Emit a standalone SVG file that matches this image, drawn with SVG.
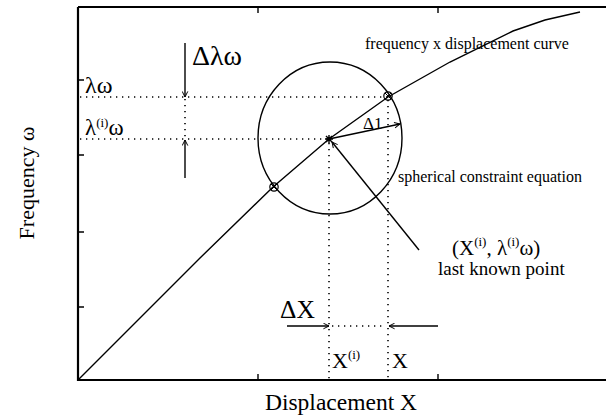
<svg xmlns="http://www.w3.org/2000/svg" width="606" height="418" viewBox="0 0 606 418">
<defs>
<marker id="ah" viewBox="0 0 10 10" refX="9" refY="5" markerWidth="7" markerHeight="7" markerUnits="userSpaceOnUse" orient="auto">
<path d="M1,1 L9,5 L1,9" fill="none" stroke="#000" stroke-width="1.4"/>
</marker>
</defs>
<style>
.t{font-family:"Liberation Serif","Times New Roman",serif;fill:#000}
.ln{fill:none;stroke:#000;stroke-width:1.4}
.dot{fill:none;stroke:#000;stroke-width:1.6;stroke-dasharray:1.3 4.7}
.arr{fill:none;stroke:#000;stroke-width:1.4;marker-end:url(#ah)}
</style>
<rect width="606" height="418" fill="#fff"/>
<g id="axes">
<path d="M78,7 H606 M78,7 V380 H606" fill="none" stroke="#000" stroke-width="2.2"/>
<path class="ln" d="M78,80 H84 M78,155 H84 M78,232 H84 M78,307 H84 M258,380 V374 M438,380 V374 M258,7 V13 M438,7 V13"/>
<text class="t" x="341" y="410" font-size="23.5" text-anchor="middle">Displacement X</text>
<text class="t" transform="translate(34,183) rotate(-90)" font-size="22" text-anchor="middle">Frequency ω</text>
</g>
<g id="curve">
<polyline class="ln" points="78,380 200,258 273,187 329,139 388,97 450,62 513,31 545,20 580,12"/>
<text class="t" x="365" y="49" font-size="16">frequency x displacement curve</text>
</g>
<g id="circle">
<ellipse class="ln" cx="330" cy="138" rx="72" ry="76"/>
<text class="t" x="398" y="182" font-size="16">spherical constraint equation</text>
</g>
<g id="points">
<circle cx="274" cy="187" r="4.2" fill="none" stroke="#000" stroke-width="1.2"/>
<path d="M271,184 L277,190 M277,184 L271,190" stroke="#000" stroke-width="1"/>
<circle cx="388" cy="96" r="4.2" fill="none" stroke="#000" stroke-width="1.2"/>
<path d="M385,93 L391,99 M391,93 L385,99" stroke="#000" stroke-width="1"/>
<path d="M325,139 H333 M329,135 V143 M326,136 L332,142 M332,136 L326,142" stroke="#000" stroke-width="1.4"/>
</g>
<g id="connectors">
<path class="dot" d="M80,97 H388 M80,139 H329 M329,143 V380 M388,100 V380 M185,99 V139 M332,326 H386"/>
<path class="arr" d="M329,139 L400,124"/>
<path class="arr" d="M419,250 L332,142"/>
<path class="arr" d="M185,43 V97"/>
<path class="arr" d="M185,178 V140"/>
<path class="arr" d="M287,326 H329"/>
<path class="arr" d="M438,326 H389"/>
</g>
<g id="labels">
<text class="t" x="363" y="129" font-size="17">Δ1</text>
<text class="t" x="192" y="65" font-size="28">Δλω</text>
<text class="t" x="280" y="318" font-size="25.5">ΔX</text>
<text class="t" x="85" y="93" font-size="24">λω</text>
<text class="t" x="85" y="135" font-size="23">λ<tspan font-size="13" dy="-8">(i)</tspan><tspan dy="8">ω</tspan></text>
<text class="t" x="332" y="368" font-size="22">X<tspan font-size="13" dy="-9">(i)</tspan></text>
<text class="t" x="392" y="368" font-size="22">X</text>
<text class="t" x="452" y="255" font-size="21">(X<tspan font-size="13" dy="-9">(i)</tspan><tspan dy="9">, λ</tspan><tspan font-size="13" dy="-9">(i)</tspan><tspan dy="9">ω)</tspan></text>
<text class="t" x="438" y="275" font-size="19">last known point</text>
</g>
</svg>
